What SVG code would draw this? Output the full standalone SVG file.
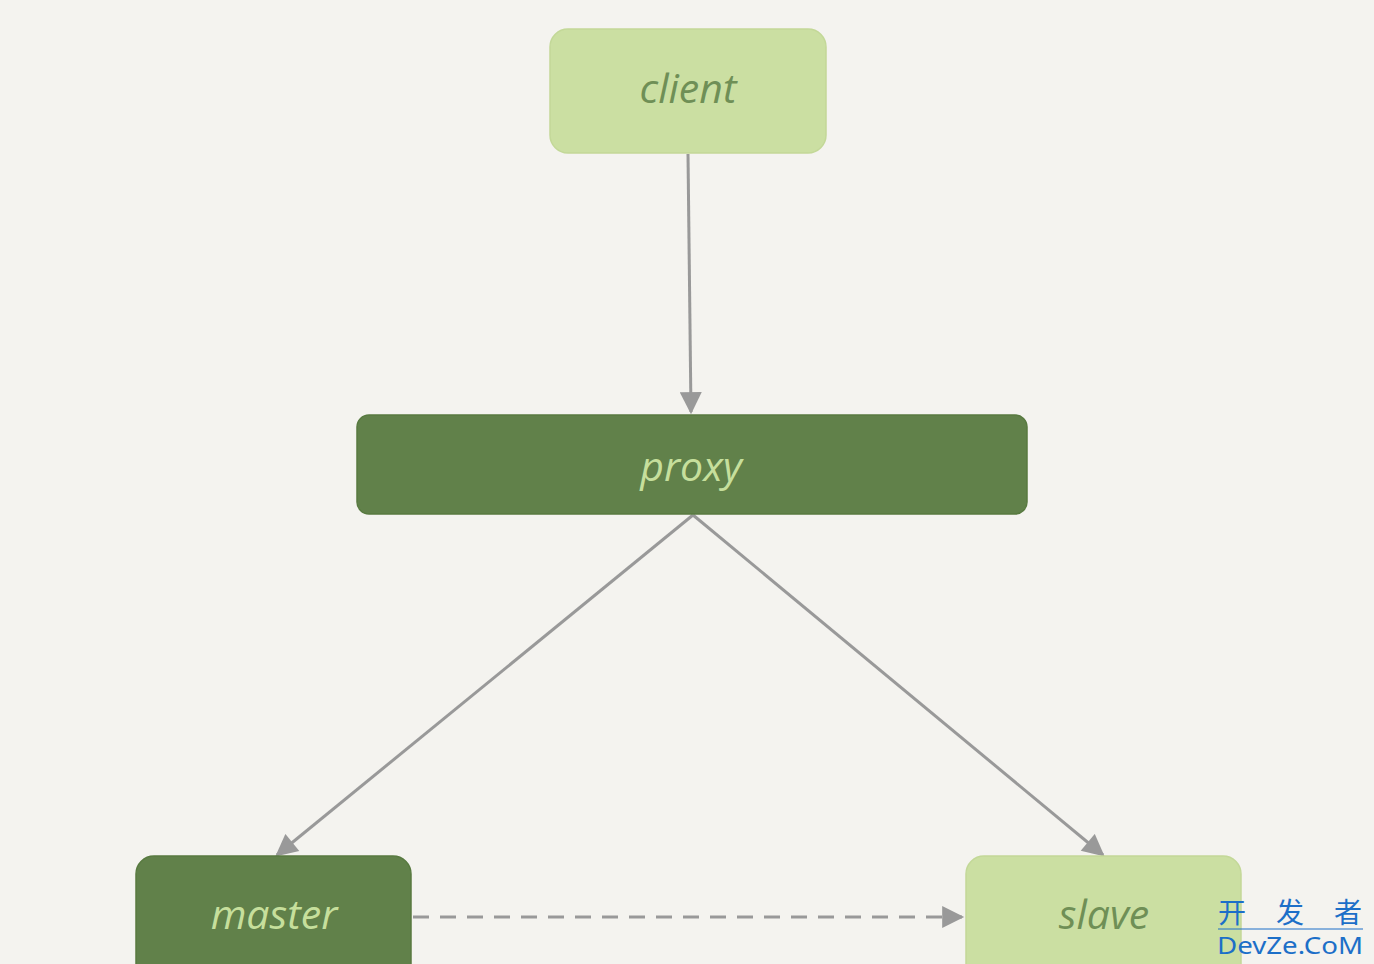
<svg xmlns="http://www.w3.org/2000/svg" width="1374" height="964" viewBox="0 0 1374 964">
<style>
.light{fill:#cbdfa2;stroke:#c3d898;stroke-width:1.5}
.dark{fill:#61814a;stroke:#587a40;stroke-width:1.5}
.lbl{font-family:"Open Sans","Noto Sans",sans-serif;font-size:41px;text-anchor:middle;dominant-baseline:central;font-style:italic}
.lt{fill:#6f8f56}
.dt{fill:#c6df9c}
.edge{stroke:#999;stroke-width:3;fill:none}
.wm{fill:#1c6fc8}
</style>
<defs>
<marker id="ah2" viewBox="0 0 10 10" refX="9" refY="5" markerWidth="24" markerHeight="22" markerUnits="userSpaceOnUse" orient="auto">
<path d="M0,0 L10,5 L0,10 z" fill="#999"/>
</marker>
</defs>
<rect width="1374" height="964" fill="#f4f3ef"/>
<g id="connectors">
<line class="edge" x1="688" y1="154" x2="691" y2="412" marker-end="url(#ah2)"/>
<line class="edge" x1="693" y1="515" x2="277" y2="855" marker-end="url(#ah2)"/>
<line class="edge" x1="693" y1="515" x2="1103" y2="855" marker-end="url(#ah2)"/>
<line class="edge" x1="413" y1="917" x2="962" y2="917" stroke-dasharray="16 11" marker-end="url(#ah2)"/>
</g>
<g id="client">
<rect class="light" x="550" y="29" width="276" height="124" rx="18"/>
<text class="lbl lt" x="688" y="87">client</text>
</g>
<g id="proxy">
<rect class="dark" x="357" y="415" width="670" height="99" rx="12"/>
<text class="lbl dt" x="691" y="465">proxy</text>
</g>
<g id="master">
<rect class="dark" x="136" y="856" width="275" height="130" rx="18"/>
<text class="lbl dt" x="274" y="913">master</text>
</g>
<g id="slave">
<rect class="light" x="966" y="856" width="275" height="130" rx="18"/>
<text class="lbl lt" x="1104" y="913">slave</text>
</g>
<g id="watermark">
<text class="wm" x="1218" y="923" font-family="'Noto Sans CJK SC',sans-serif" font-size="28" textLength="144" lengthAdjust="spacing">开 发 者</text>
<line x1="1218" y1="929" x2="1363" y2="929" stroke="#1c6fc8" stroke-width="1"/>
<text class="wm" x="1217" y="954" font-family="'Noto Sans',sans-serif" font-size="24" textLength="146" lengthAdjust="spacingAndGlyphs">DevZe.CoM</text>
</g>
</svg>
